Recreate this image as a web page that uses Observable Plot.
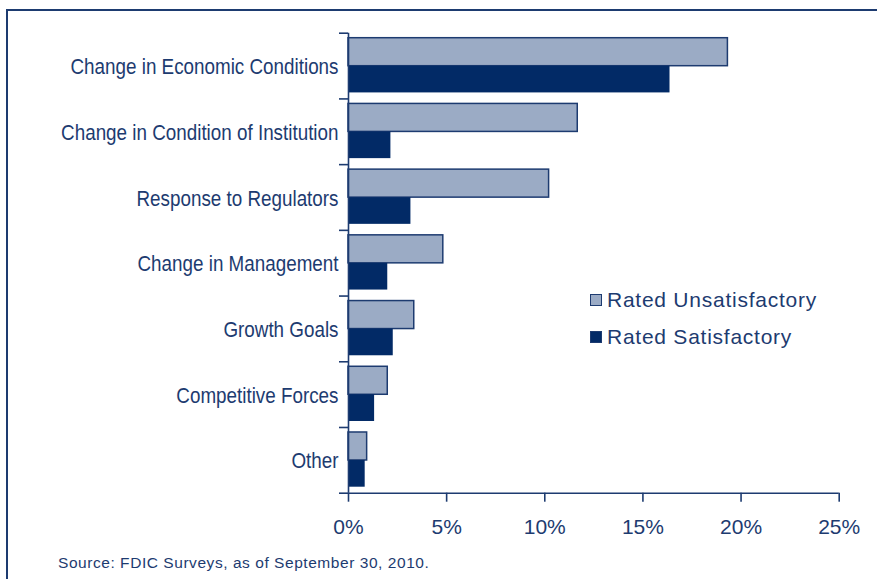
<!DOCTYPE html>
<html>
<head>
<meta charset="utf-8">
<script src="https://cdn.jsdelivr.net/npm/d3@7"></script>
<script src="https://cdn.jsdelivr.net/npm/@observablehq/plot@0.6"></script>
<style>
  html, body { margin: 0; padding: 0; background: #fff; }
  #wrap { position: relative; width: 877px; height: 579px; overflow: hidden; font-family: "Liberation Sans", Arial, sans-serif; color: #1d3b70; }
  #frame { position: absolute; left: 6px; top: 8.5px; width: 900px; height: 700px; border-left: 2px solid #1d3b70; border-top: 2px solid #1d3b70; box-sizing: border-box; }
  #chart { position: absolute; left: 0; top: 0; }
  .sw { position: absolute; width: 10px; height: 10px; border: 1px solid #1d3b70; }
  .lt { position: absolute; font-size: 21px; line-height: 21px; letter-spacing: 0.75px; white-space: nowrap; }
  #caption { position: absolute; left: 58px; top: 554.5px; font-size: 15.5px; line-height: 15.5px; letter-spacing: 0.55px; white-space: nowrap; }
</style>
</head>
<body>
<div id="wrap">
  <div id="frame"></div>
  <div id="chart"></div>
  <div id="legend"></div>
  <div id="caption"></div>
</div>
<script>
const categories = [
  "Change in Economic Conditions",
  "Change in Condition of Institution",
  "Response to Regulators",
  "Change in Management",
  "Growth Goals",
  "Competitive Forces",
  "Other"
];
const seriesNames = ["Rated Unsatisfactory", "Rated Satisfactory"];
const unsatisfactory = [19.33, 11.68, 10.22, 4.83, 3.35, 2.0, 0.95];
const satisfactory   = [16.38, 2.16, 3.18, 2.0, 2.28, 1.33, 0.85];
const xTicks = [0, 5, 10, 15, 20, 25];
const sourceText = "Source: FDIC Surveys, as of September 30, 2010.";

const navy = "#1d3b70";
const lightFill = "#9babc5";
const darkFill = "#022a66";

const rows = categories.flatMap((c, i) => [
  {category: c, i, series: seriesNames[0], value: unsatisfactory[i]},
  {category: c, i, series: seriesNames[1], value: satisfactory[i]}
]);

const W = 877, H = 579;
const mTop = 32.7, mBottom = 86.3, mLeft = 348, mRight = 38.3;
const band = (H - mTop - mBottom) / categories.length;

const plot = Plot.plot({
  width: W,
  height: H,
  marginTop: mTop,
  marginBottom: mBottom,
  marginLeft: mLeft,
  marginRight: mRight,
  style: {color: navy, background: "transparent", overflow: "visible"},
  x: {domain: [0, 25]},
  y: {domain: [categories.length, 0]},
  marks: [
    Plot.rect(rows.filter(d => d.series === seriesNames[0]), {
      x1: () => 0, x2: "value", y1: "i", y2: d => d.i + 1,
      insetTop: 5, insetBottom: band - 33,
      fill: lightFill, stroke: navy, strokeWidth: 1.5
    }),
    Plot.rect(rows.filter(d => d.series === seriesNames[1]), {
      x1: () => 0, x2: "value", y1: "i", y2: d => d.i + 1,
      insetTop: 33, insetBottom: 6,
      fill: darkFill
    }),
    Plot.ruleX([0], {stroke: navy, strokeWidth: 1.6}),
    Plot.ruleY([categories.length], {stroke: navy, strokeWidth: 1.6}),
    Plot.axisX({
      ticks: xTicks, tickFormat: d => d + "%", tickSize: 9, tickPadding: 17,
      fontSize: 21, fontFamily: "Liberation Sans, Arial, sans-serif",
      strokeWidth: 1.6, label: null
    }),
    Plot.axisY({
      ticks: d3.range(categories.length + 1), tickFormat: () => "",
      tickSize: 9, strokeWidth: 1.6, label: null
    }),
    Plot.axisY({
      ticks: categories.map((c, i) => i + 0.5),
      tickFormat: v => categories[Math.floor(v)],
      tickSize: 0, tickPadding: 10, dy: 1,
      fontSize: 22, fontFamily: "Liberation Sans, Arial, sans-serif",
      label: null
    })
  ]
});
document.getElementById("chart").appendChild(plot);

// condensed look for the category labels
plot.querySelectorAll('g[aria-label="y-axis tick label"] text').forEach(t => {
  if (!t.textContent) return;
  const w = t.getComputedTextLength();
  t.setAttribute("textLength", (w * 0.856).toFixed(1));
  t.setAttribute("lengthAdjust", "spacingAndGlyphs");
});

const legend = document.getElementById("legend");
const legendColors = [lightFill, darkFill];
seriesNames.forEach((name, k) => {
  const sw = document.createElement("div");
  sw.className = "sw";
  sw.style.left = "590px";
  sw.style.top = (293.5 + k * 37) + "px";
  sw.style.background = legendColors[k];
  legend.appendChild(sw);
  const t = document.createElement("div");
  t.className = "lt";
  t.style.left = "607px";
  t.style.top = (289 + k * 37) + "px";
  t.textContent = name;
  legend.appendChild(t);
});
document.getElementById("caption").textContent = sourceText;
</script>
</body>
</html>
